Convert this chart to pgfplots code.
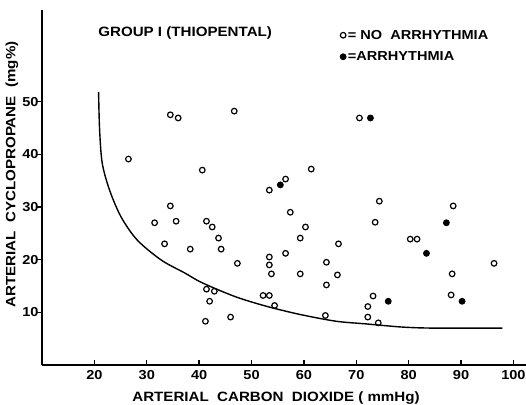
\documentclass[border=0pt]{standalone}
\usepackage{fontspec}
\setmainfont{Liberation Sans}[FakeStretch=1.12]
\usepackage{pgfplots}
\pgfplotsset{compat=1.18}
\usetikzlibrary{calc}

\begin{document}
\begin{tikzpicture}
\begin{axis}[
    name=ax,
    scale only axis, width=484pt, height=355pt,
    xmin=10, xmax=102.4, ymin=0, ymax=67.4,
    axis x line=bottom, axis y line=left,
    axis line style={-, line width=1.6pt, black},
    xtick={20,30,...,100}, ytick={10,20,...,50},
    xtick align=inside, ytick align=outside, major tick length=5pt,
    tick style={line width=1.4pt, black},
    /pgf/number format/assume math mode=true,
    ticklabel style={font=\bfseries\fontsize{13}{13}\selectfont},
    xticklabel style={yshift=-1.5pt},
    yticklabel style={xshift=5pt},
    xlabel={ARTERIAL\ \ CARBON\ \ DIOXIDE ( mmHg)},
    ylabel={ARTERIAL\ \ CYCLOPROPANE\ \ (mg\%)},
    label style={font=\bfseries\fontsize{13.5}{13.5}\selectfont},
    xlabel style={at={(rel axis cs:0.5,0)}, anchor=center, yshift=-33pt, xshift=-8pt},
    ylabel style={at={(rel axis cs:0,0.5)}, anchor=center, yshift=30pt, xshift=13pt},
    legend style={at={(rel axis cs:0.616,0.95)}, anchor=north west, draw=none, fill=none,
        inner sep=0pt, row sep=7pt, font=\bfseries\fontsize{13}{13}\selectfont},
    legend cell align=left,
    legend image code/.code={\draw[mark repeat=2,mark phase=2] plot coordinates {(0pt,0pt) (4pt,0pt) (8pt,0pt)};},
    clip=false,
]
% bottom axis line, drawn again so it always shows
\draw[line width=1.6pt, black] (rel axis cs:0,0) -- (rel axis cs:1,0);
% curve drawn by hand in the original
\addplot[black, line width=1.4pt, smooth, forget plot] coordinates {
    (20.8,51.8) (21.0,44.6) (21.5,38.3) (22.9,33.2) (25.1,28.1) (28.2,23.7)
    (32.8,19.9) (37.2,17.5) (40.6,15.6) (47.1,12.9) (53.4,11.0) (59.7,9.5)
    (66.2,8.3) (71.9,7.8) (78.8,7.2) (85,7.0) (97.9,7.0)};
% no arrhythmia
\addplot[only marks, mark=o, mark size=2.8pt, black, line width=1.2pt] coordinates {
    (26.5,39.1) (34.5,47.5) (36.0,46.9) (46.7,48.2) (40.6,37.0)
    (31.5,27.0) (33.4,23.0) (34.5,30.2) (35.6,27.3) (38.3,22.0)
    (41.4,27.3) (42.5,26.2) (43.7,24.1) (44.2,22.0) (47.3,19.3)
    (41.4,14.4) (42.9,14.0) (42.0,12.1) (41.2,8.3) (46.0,9.1)
    (52.2,13.2) (53.4,13.2) (54.4,11.3) (53.4,20.5) (53.4,19.0) (53.8,17.3)
    (53.4,33.2) (56.5,35.3) (56.5,21.2) (57.4,29.0) (59.3,24.1) (60.3,26.2)
    (59.3,17.3) (61.4,37.2) (64.3,19.5) (64.3,15.2) (66.6,23.0) (66.4,17.1)
    (64.1,9.4) (70.6,46.9) (73.6,27.1) (74.4,31.1) (73.2,13.1) (72.2,11.1)
    (72.2,9.1) (74.2,8.0) (80.3,23.9) (81.6,23.9) (88.5,30.2) (88.3,17.3)
    (88.1,13.3) (96.3,19.3)};
\addlegendentry{= NO\ \ ARRHYTHMIA}
% arrhythmia
\addplot[only marks, mark=*, mark size=2.8pt, black, line width=1.2pt] coordinates {
    (55.5,34.2) (72.7,46.9) (87.2,27.0) (83.4,21.2) (76.1,12.1) (90.2,12.1)};
\addlegendentry{=ARRHYTHMIA}
\node[anchor=west, inner sep=0pt, font=\bfseries\fontsize{13.5}{13.5}\selectfont]
    at (rel axis cs:0.116,0.935) {GROUP I (THIOPENTAL)};
\coordinate (bl) at (rel axis cs:0,0);
\coordinate (tr) at (rel axis cs:1,1);
\end{axis}
\pgfresetboundingbox
\path ($(bl)+(-42pt,-40pt)$) rectangle ($(tr)+(0pt,10pt)$);
\end{tikzpicture}
\end{document}
